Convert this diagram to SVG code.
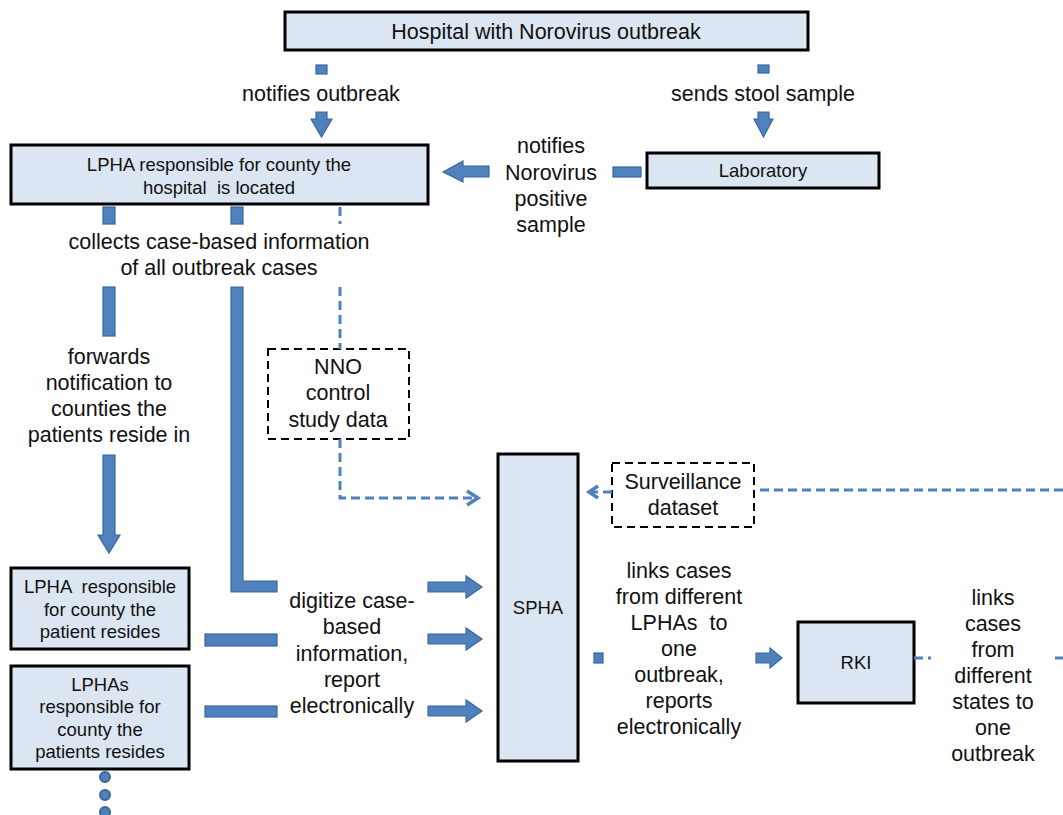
<svg xmlns="http://www.w3.org/2000/svg" width="1063" height="815" viewBox="0 0 1063 815">
<style>
.box{fill:#dce6f2;stroke:#000;stroke-width:3}
.dbox{fill:#fff;stroke:#000;stroke-width:2;stroke-dasharray:8 5}
.blk{fill:#4f81bd;stroke:#3a679e;stroke-width:1.2}
.dot{fill:#4f81bd;stroke:#3a679e;stroke-width:2}
.dash{fill:none;stroke:#4f81bd;stroke-width:3;stroke-dasharray:9 5}
.chev{fill:none;stroke:#4f81bd;stroke-width:3.5}
text{font-family:"Liberation Sans",Arial,sans-serif;fill:#111;text-anchor:middle}
.lb{font-size:21.5px}
.bx{font-size:18.5px}
</style>
<rect width="1063" height="815" fill="#fff"/>

<g id="hospital">
<rect class="box" x="285" y="12" width="523" height="38"/>
<text class="lb" x="546" y="39">Hospital with Norovirus outbreak</text>
</g>

<g id="lpha-hospital">
<rect class="box" x="11" y="145" width="417" height="59"/>
<text class="bx" x="219" y="171">LPHA responsible for county the</text>
<text class="bx" x="219" y="194" xml:space="preserve">hospital  is located</text>
</g>

<g id="laboratory">
<rect class="box" x="647" y="153" width="232" height="35"/>
<text class="bx" x="763" y="177">Laboratory</text>
</g>

<g id="nno">
<rect class="dbox" x="268" y="349" width="141" height="90"/>
<text class="lb" x="338" y="374">NNO</text>
<text class="lb" x="338" y="400">control</text>
<text class="lb" x="338" y="427">study data</text>
</g>

<g id="surveillance">
<rect class="dbox" x="612" y="463" width="142" height="64"/>
<text class="lb" x="683" y="489">Surveillance</text>
<text class="lb" x="683" y="515">dataset</text>
</g>

<g id="spha">
<rect class="box" x="498" y="454" width="80" height="307"/>
<text class="bx" x="538" y="614">SPHA</text>
</g>

<g id="rki">
<rect class="box" x="798" y="622" width="116" height="81"/>
<text class="bx" x="856" y="669">RKI</text>
</g>

<g id="lpha-patient">
<rect class="box" x="11" y="568" width="178" height="81"/>
<text class="bx" x="100" y="593" xml:space="preserve">LPHA  responsible</text>
<text class="bx" x="100" y="616">for county the</text>
<text class="bx" x="100" y="638">patient resides</text>
</g>

<g id="lphas-patients">
<rect class="box" x="11" y="666" width="178" height="103"/>
<text class="bx" x="100" y="691">LPHAs</text>
<text class="bx" x="100" y="713">responsible for</text>
<text class="bx" x="100" y="736">county the</text>
<text class="bx" x="100" y="758">patients resides</text>
</g>

<g id="connectors">
<rect class="blk" x="316" y="65" width="11" height="9"/>
<path class="blk" d="M316,112 H327 V119 H332 L321.5,137 L311,119 H316 Z"/>
<rect class="blk" x="758" y="65" width="11" height="8"/>
<path class="blk" d="M758,112 H769 V119 H773 L763.5,137 L754,119 H758 Z"/>
<rect class="blk" x="613" y="167" width="28" height="10"/>
<path class="blk" d="M489,166 V177 H463 V182 L443,172 L463,161 V166 Z"/>
<rect class="blk" x="103" y="207" width="12" height="17"/>
<rect class="blk" x="231" y="207" width="12" height="17"/>
<path class="dash" d="M340,207 V224"/>
<rect class="blk" x="103" y="287" width="12" height="49"/>
<path class="blk" d="M103,455 H115 V535 H120 L109,553 L98,535 H103 Z"/>
<path class="blk" d="M231,287 H243 V581 H277 V592 H231 Z"/>
<path class="dash" d="M340,287 V349"/>
<path class="dash" d="M340,439 V498 H476"/>
<path class="chev" d="M467,491 L478,498 L467,505"/>
<path class="dash" d="M1063,490 H756"/>
<path class="dash" d="M612,492 H592" stroke-dasharray="6 3"/>
<path class="chev" d="M598,486 L589,492 L598,498"/>
<rect class="blk" x="205" y="634" width="72" height="12"/>
<rect class="blk" x="205" y="706" width="72" height="11"/>
<path class="blk" d="M428,582 H466 V576 L482,587 L466,598 V592 H428 Z"/>
<path class="blk" d="M428,634 H466 V628 L482,639 L466,650 V644 H428 Z"/>
<path class="blk" d="M428,706 H466 V700 L482,711 L466,722 V716 H428 Z"/>
<rect class="blk" x="594" y="653" width="9" height="10"/>
<path class="blk" d="M756,653 H770 V648 L782,658 L770,668 V663 H756 Z"/>
<path class="dash" d="M914,658 H931" stroke-dasharray="10 4 3 4"/>
<path class="dash" d="M1055,658 H1063"/>
<circle class="dot" cx="105" cy="777" r="5"/>
<circle class="dot" cx="105" cy="795" r="5"/>
<circle class="dot" cx="105" cy="812" r="5"/>
</g>

<g id="labels">
<text class="lb" x="321" y="101">notifies outbreak</text>
<text class="lb" x="763" y="101">sends stool sample</text>
<text class="lb" x="551" y="153">notifies</text>
<text class="lb" x="551" y="180">Norovirus</text>
<text class="lb" x="551" y="206">positive</text>
<text class="lb" x="551" y="232">sample</text>
<text class="lb" x="219" y="249">collects case-based information</text>
<text class="lb" x="219" y="275">of all outbreak cases</text>
<text class="lb" x="109" y="364">forwards</text>
<text class="lb" x="109" y="390">notification to</text>
<text class="lb" x="109" y="416">counties the</text>
<text class="lb" x="109" y="442">patients reside in</text>
<text class="lb" x="352" y="608">digitize case-</text>
<text class="lb" x="352" y="634">based</text>
<text class="lb" x="352" y="661">information,</text>
<text class="lb" x="352" y="687">report</text>
<text class="lb" x="352" y="713">electronically</text>
<text class="lb" x="679" y="578">links cases</text>
<text class="lb" x="679" y="604">from different</text>
<text class="lb" x="679" y="630" xml:space="preserve">LPHAs  to</text>
<text class="lb" x="679" y="656">one</text>
<text class="lb" x="679" y="682">outbreak,</text>
<text class="lb" x="679" y="708">reports</text>
<text class="lb" x="679" y="734">electronically</text>
<text class="lb" x="993" y="605">links</text>
<text class="lb" x="993" y="631">cases</text>
<text class="lb" x="993" y="657">from</text>
<text class="lb" x="993" y="683">different</text>
<text class="lb" x="993" y="709">states to</text>
<text class="lb" x="993" y="735">one</text>
<text class="lb" x="993" y="761">outbreak</text>
</g>
</svg>
